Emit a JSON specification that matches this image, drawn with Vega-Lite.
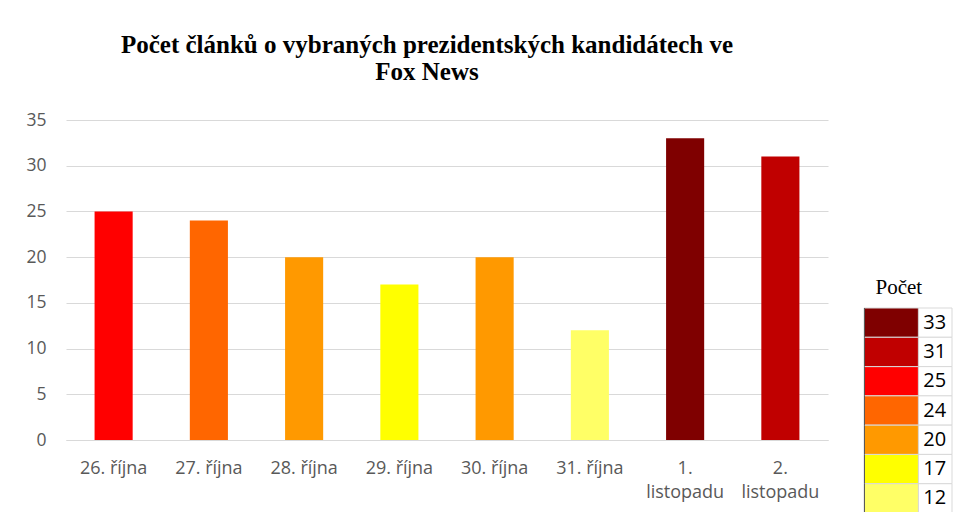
{
  "$schema": "https://vega.github.io/schema/vega-lite/v6.json",
  "padding": {"left": 25, "top": 33, "right": 0, "bottom": 0},
  "spacing": 35,
  "background": "white",
  "config": {"view": {"stroke": null}},
  "resolve": {"scale": {"x": "independent", "y": "independent", "color": "shared"}},
  "datasets": {
    "fox": [
      {"den": "26. října", "pocet": 25},
      {"den": "27. října", "pocet": 24},
      {"den": "28. října", "pocet": 20},
      {"den": "29. října", "pocet": 17},
      {"den": "30. října", "pocet": 20},
      {"den": "31. října", "pocet": 12},
      {"den": "1. listopadu", "pocet": 33},
      {"den": "2. listopadu", "pocet": 31}
    ]
  },
  "hconcat": [
    {
      "width": 762,
      "height": 320,
      "data": {"name": "fox"},
      "title": {
        "text": ["Počet článků o vybraných prezidentských kandidátech ve", "Fox News"],
        "font": "Liberation Serif",
        "fontSize": 25,
        "fontWeight": "bold",
        "color": "#000000",
        "lineHeight": 27,
        "offset": 26,
        "anchor": "middle",
        "dx": -20
      },
      "mark": {"type": "bar"},
      "encoding": {
        "x": {
          "field": "den",
          "type": "nominal",
          "sort": null,
          "scale": {"paddingInner": 0.6, "paddingOuter": 0.3},
          "axis": {
            "title": null,
            "labelAngle": 0,
            "labelFont": "Open Sans",
            "labelFontSize": 18,
            "labelColor": "#595959",
            "labelPadding": 19,
            "labelLineHeight": 24,
            "labelLimit": 0,
            "ticks": false,
            "domainColor": "#d9d9d9",
            "domainWidth": 1,
            "labelExpr": "indexof(datum.label, 'listopadu') >= 0 ? split(datum.label, ' ') : datum.label"
          }
        },
        "y": {
          "field": "pocet",
          "type": "quantitative",
          "scale": {"domain": [0, 35]},
          "axis": {
            "title": null,
            "values": [0, 5, 10, 15, 20, 25, 30, 35],
            "labelFont": "Open Sans",
            "labelFontSize": 17.5,
            "labelColor": "#595959",
            "labelPadding": 20,
            "ticks": false,
            "domain": false,
            "gridColor": "#d9d9d9",
            "gridWidth": 1
          }
        },
        "color": {
          "field": "pocet",
          "type": "ordinal",
          "scale": {
            "domain": [33, 31, 25, 24, 20, 17, 12],
            "range": ["#7f0000", "#c00000", "#ff0000", "#ff6600", "#ff9900", "#ffff00", "#ffff66"]
          },
          "legend": null
        }
      }
    },
    {
      "width": 89,
      "height": 393,
      "data": {"name": "fox"},
      "transform": [{"aggregate": [{"op": "count", "as": "n"}], "groupby": ["pocet"]}],
      "title": {
        "text": "Počet",
        "font": "Liberation Serif",
        "fontSize": 21,
        "fontWeight": "normal",
        "color": "#000000",
        "anchor": "start",
        "baseline": "alphabetic",
        "offset": 0,
        "dx": 12,
        "dy": 195
      },
      "encoding": {
        "y": {
          "field": "pocet",
          "type": "ordinal",
          "sort": "descending",
          "axis": null,
          "scale": {"paddingInner": 0, "paddingOuter": 0, "range": [188, 393]}
        }
      },
      "layer": [
        {
          "mark": {"type": "rect", "fill": "white", "stroke": "#d9d9d9", "strokeWidth": 1},
          "encoding": {
            "x": {"datum": 55, "type": "quantitative", "scale": {"domain": [0, 89]}, "axis": null},
            "x2": {"datum": 89}
          }
        },
        {
          "mark": {"type": "rect", "stroke": "#d9d9d9", "strokeWidth": 1},
          "encoding": {
            "x": {"datum": 0, "type": "quantitative"},
            "x2": {"datum": 55},
            "color": {
              "field": "pocet",
              "type": "ordinal",
              "scale": {
                "domain": [33, 31, 25, 24, 20, 17, 12],
                "range": ["#7f0000", "#c00000", "#ff0000", "#ff6600", "#ff9900", "#ffff00", "#ffff66"]
              },
              "legend": null
            }
          }
        },
        {
          "mark": {"type": "rect", "fill": "#595959"},
          "encoding": {
            "x": {"datum": 0, "type": "quantitative"},
            "x2": {"datum": 1}
          }
        },
        {
          "mark": {"type": "text", "align": "left", "baseline": "middle", "font": "Open Sans", "fontSize": 20, "color": "#000000"},
          "encoding": {
            "x": {"datum": 60, "type": "quantitative"},
            "text": {"field": "pocet", "type": "quantitative"}
          }
        }
      ]
    }
  ]
}
